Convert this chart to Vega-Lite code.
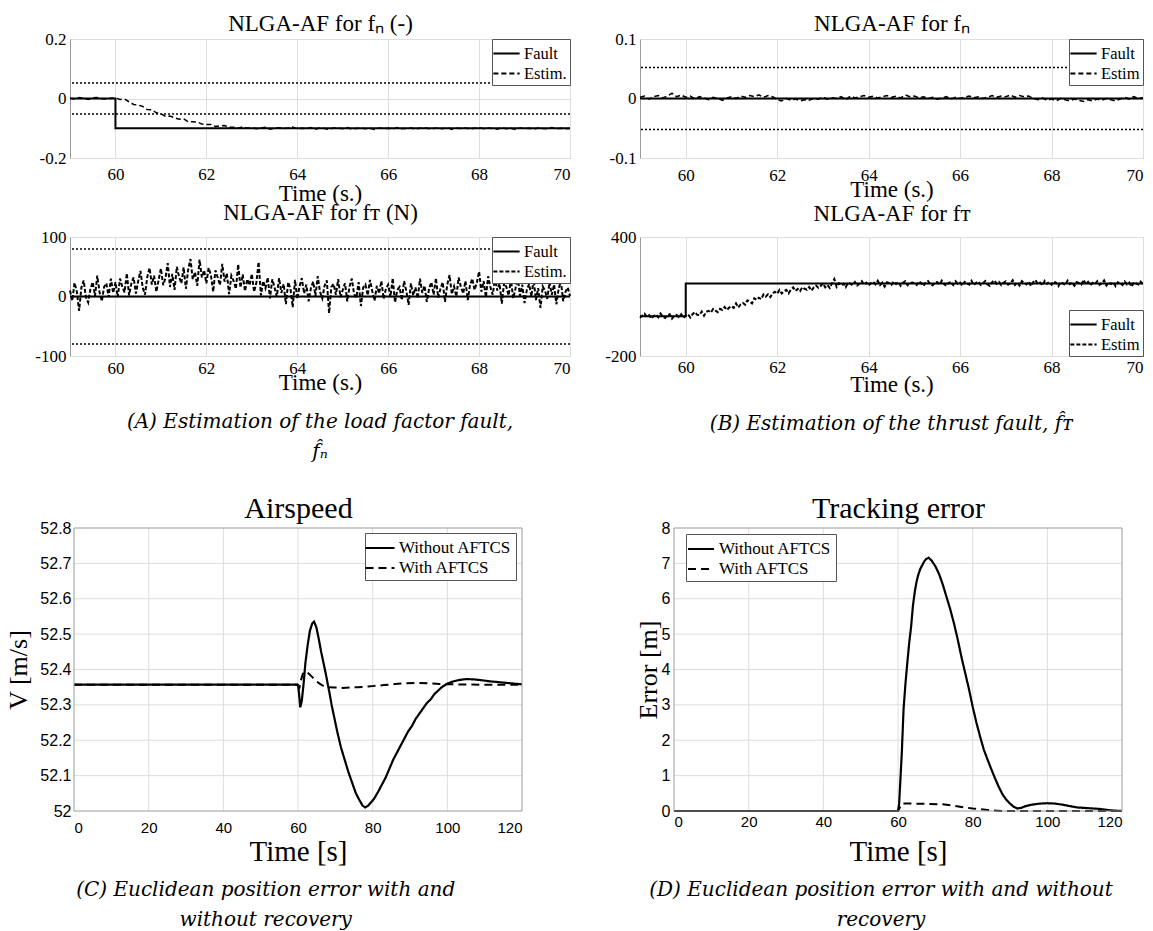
{
"$schema": "https://vega.github.io/schema/vega-lite/v6.json",
"padding": {"left": 5, "top": 11, "right": 0, "bottom": 0},
"background": "white",
"columns": 2,
"align": "each",
"bounds": "flush",
"spacing": {"row": 79, "column": 70},
"resolve": {"scale": {"strokeDash": "independent"}, "legend": {"strokeDash": "independent"}},
"config": {
  "view": {"stroke": "#9a9a9a", "strokeWidth": 1},
  "axis": {"ticks": false, "tickSize": 0, "domain": false, "grid": true, "gridColor": "#dedede", "gridWidth": 1, "labelFont": "Liberation Serif", "labelFontSize": 17, "labelColor": "#000", "titleFont": "Liberation Serif", "titleFontWeight": "normal", "titleColor": "#000"},
  "legend": {"strokeColor": "#555", "fillColor": "white", "padding": 3, "symbolType": "M-1.25,0L1.25,0", "symbolSize": 441, "symbolStrokeWidth": 2, "symbolStrokeColor": "black", "labelFont": "Liberation Serif", "labelColor": "#000", "labelFontSize": 16.5, "labelOffset": 6, "rowPadding": 0, "cornerRadius": 0},
  "title": {"font": "DejaVu Serif", "fontStyle": "italic", "fontWeight": "normal", "fontSize": 20, "color": "#000", "lineHeight": 30}
},
"datasets": {
"a1e": [{"t":59,"v":0.001},{"t":59.1,"v":-0.002},{"t":59.2,"v":0.003},{"t":59.3,"v":0},{"t":59.4,"v":-0.003},{"t":59.5,"v":0.002},{"t":59.6,"v":0.003},{"t":59.7,"v":-0.001},{"t":59.8,"v":-0.002},{"t":59.9,"v":0.001},{"t":60,"v":0.002},{"t":60.1,"v":-0.003},{"t":60.2,"v":-0.002},{"t":60.3,"v":-0.011},{"t":60.4,"v":-0.02},{"t":60.5,"v":-0.022},{"t":60.6,"v":-0.027},{"t":60.7,"v":-0.037},{"t":60.8,"v":-0.038},{"t":60.9,"v":-0.048},{"t":61,"v":-0.051},{"t":61.1,"v":-0.06},{"t":61.2,"v":-0.059},{"t":61.3,"v":-0.065},{"t":61.4,"v":-0.07},{"t":61.5,"v":-0.068},{"t":61.6,"v":-0.078},{"t":61.7,"v":-0.078},{"t":61.8,"v":-0.079},{"t":61.9,"v":-0.086},{"t":62,"v":-0.087},{"t":62.1,"v":-0.087},{"t":62.2,"v":-0.094},{"t":62.3,"v":-0.092},{"t":62.4,"v":-0.091},{"t":62.5,"v":-0.097},{"t":62.6,"v":-0.097},{"t":62.7,"v":-0.1},{"t":62.8,"v":-0.095},{"t":62.9,"v":-0.1},{"t":63,"v":-0.098},{"t":63.1,"v":-0.102},{"t":63.2,"v":-0.099},{"t":63.3,"v":-0.097},{"t":63.4,"v":-0.103},{"t":63.5,"v":-0.1},{"t":63.6,"v":-0.098},{"t":63.7,"v":-0.101},{"t":63.8,"v":-0.099},{"t":63.9,"v":-0.096},{"t":64,"v":-0.102},{"t":64.1,"v":-0.1},{"t":64.2,"v":-0.102},{"t":64.3,"v":-0.098},{"t":64.4,"v":-0.103},{"t":64.5,"v":-0.099},{"t":64.6,"v":-0.101},{"t":64.7,"v":-0.104},{"t":64.8,"v":-0.099},{"t":64.9,"v":-0.1},{"t":65,"v":-0.102},{"t":65.1,"v":-0.098},{"t":65.2,"v":-0.103},{"t":65.3,"v":-0.101},{"t":65.4,"v":-0.099},{"t":65.5,"v":-0.102},{"t":65.6,"v":-0.1},{"t":65.7,"v":-0.104},{"t":65.8,"v":-0.099},{"t":65.9,"v":-0.101},{"t":66,"v":-0.1},{"t":66.1,"v":-0.103},{"t":66.2,"v":-0.098},{"t":66.3,"v":-0.102},{"t":66.4,"v":-0.101},{"t":66.5,"v":-0.099},{"t":66.6,"v":-0.103},{"t":66.7,"v":-0.1},{"t":66.8,"v":-0.098},{"t":66.9,"v":-0.102},{"t":67,"v":-0.101},{"t":67.1,"v":-0.099},{"t":67.2,"v":-0.102},{"t":67.3,"v":-0.098},{"t":67.4,"v":-0.104},{"t":67.5,"v":-0.1},{"t":67.6,"v":-0.101},{"t":67.7,"v":-0.099},{"t":67.8,"v":-0.103},{"t":67.9,"v":-0.1},{"t":68,"v":-0.098},{"t":68.1,"v":-0.102},{"t":68.2,"v":-0.099},{"t":68.3,"v":-0.101},{"t":68.4,"v":-0.103},{"t":68.5,"v":-0.098},{"t":68.6,"v":-0.102},{"t":68.7,"v":-0.1},{"t":68.8,"v":-0.104},{"t":68.9,"v":-0.099},{"t":69,"v":-0.101},{"t":69.1,"v":-0.1},{"t":69.2,"v":-0.103},{"t":69.3,"v":-0.099},{"t":69.4,"v":-0.101},{"t":69.5,"v":-0.102},{"t":69.6,"v":-0.098},{"t":69.7,"v":-0.103},{"t":69.8,"v":-0.1},{"t":69.9,"v":-0.102},{"t":70,"v":-0.101}],
"b1e": [{"t":59,"v":0.002},{"t":59.1,"v":0.004},{"t":59.2,"v":-0.001},{"t":59.3,"v":0.003},{"t":59.4,"v":0.005},{"t":59.5,"v":0.001},{"t":59.6,"v":0.004},{"t":59.7,"v":0.009},{"t":59.8,"v":0.003},{"t":59.9,"v":0.006},{"t":60,"v":0.002},{"t":60.1,"v":0.004},{"t":60.2,"v":-0.001},{"t":60.3,"v":0.003},{"t":60.4,"v":0.001},{"t":60.5,"v":-0.002},{"t":60.6,"v":0.002},{"t":60.7,"v":0},{"t":60.8,"v":-0.003},{"t":60.9,"v":0.001},{"t":61,"v":0.003},{"t":61.1,"v":0},{"t":61.2,"v":0.004},{"t":61.3,"v":0.002},{"t":61.4,"v":0.005},{"t":61.5,"v":0.003},{"t":61.6,"v":0.006},{"t":61.7,"v":0.002},{"t":61.8,"v":0.005},{"t":61.9,"v":0.003},{"t":62,"v":-0.002},{"t":62.1,"v":-0.004},{"t":62.2,"v":0},{"t":62.3,"v":-0.003},{"t":62.4,"v":-0.001},{"t":62.5,"v":-0.004},{"t":62.6,"v":-0.002},{"t":62.7,"v":-0.003},{"t":62.8,"v":0},{"t":62.9,"v":-0.001},{"t":63,"v":0.002},{"t":63.1,"v":-0.001},{"t":63.2,"v":0.001},{"t":63.3,"v":0},{"t":63.4,"v":0.003},{"t":63.5,"v":-0.002},{"t":63.6,"v":0.004},{"t":63.7,"v":0.001},{"t":63.8,"v":0.003},{"t":63.9,"v":0.005},{"t":64,"v":0.002},{"t":64.1,"v":0.004},{"t":64.2,"v":0.001},{"t":64.3,"v":0.003},{"t":64.4,"v":0.005},{"t":64.5,"v":0.002},{"t":64.6,"v":0.004},{"t":64.7,"v":0.001},{"t":64.8,"v":0.006},{"t":64.9,"v":0.003},{"t":65,"v":0.004},{"t":65.1,"v":0.001},{"t":65.2,"v":0.003},{"t":65.3,"v":0},{"t":65.4,"v":0.002},{"t":65.5,"v":-0.001},{"t":65.6,"v":0.001},{"t":65.7,"v":0.003},{"t":65.8,"v":-0.001},{"t":65.9,"v":0.002},{"t":66,"v":0},{"t":66.1,"v":0.002},{"t":66.2,"v":0.004},{"t":66.3,"v":0.001},{"t":66.4,"v":0.003},{"t":66.5,"v":0},{"t":66.6,"v":0.002},{"t":66.7,"v":0.005},{"t":66.8,"v":0.002},{"t":66.9,"v":0.004},{"t":67,"v":0.003},{"t":67.1,"v":0.006},{"t":67.2,"v":0.002},{"t":67.3,"v":0.005},{"t":67.4,"v":0.003},{"t":67.5,"v":0.004},{"t":67.6,"v":0},{"t":67.7,"v":-0.002},{"t":67.8,"v":0.001},{"t":67.9,"v":-0.003},{"t":68,"v":-0.001},{"t":68.1,"v":-0.004},{"t":68.2,"v":0},{"t":68.3,"v":-0.002},{"t":68.4,"v":-0.004},{"t":68.5,"v":-0.001},{"t":68.6,"v":-0.003},{"t":68.7,"v":-0.005},{"t":68.8,"v":-0.002},{"t":68.9,"v":-0.004},{"t":69,"v":-0.001},{"t":69.1,"v":-0.003},{"t":69.2,"v":0},{"t":69.3,"v":-0.002},{"t":69.4,"v":-0.004},{"t":69.5,"v":-0.001},{"t":69.6,"v":0.002},{"t":69.7,"v":-0.001},{"t":69.8,"v":0.003},{"t":69.9,"v":0},{"t":70,"v":0.001}],
"a2e": [{"t":59,"v":10},{"t":59.05,"v":-7},{"t":59.1,"v":23},{"t":59.15,"v":8},{"t":59.2,"v":-24},{"t":59.25,"v":15},{"t":59.3,"v":27},{"t":59.35,"v":-1},{"t":59.4,"v":-10},{"t":59.45,"v":13},{"t":59.5,"v":24},{"t":59.55,"v":1},{"t":59.6,"v":35},{"t":59.65,"v":7},{"t":59.7,"v":-8},{"t":59.75,"v":16},{"t":59.8,"v":22},{"t":59.85,"v":-1},{"t":59.9,"v":30},{"t":59.95,"v":6},{"t":60,"v":24},{"t":60.05,"v":-1},{"t":60.1,"v":30},{"t":60.15,"v":17},{"t":60.2,"v":7},{"t":60.25,"v":39},{"t":60.3,"v":2},{"t":60.35,"v":22},{"t":60.4,"v":32},{"t":60.45,"v":5},{"t":60.5,"v":26},{"t":60.55,"v":43},{"t":60.6,"v":15},{"t":60.65,"v":3},{"t":60.7,"v":33},{"t":60.75,"v":48},{"t":60.8,"v":20},{"t":60.85,"v":35},{"t":60.9,"v":8},{"t":60.95,"v":28},{"t":61,"v":47},{"t":61.05,"v":19},{"t":61.1,"v":31},{"t":61.15,"v":56},{"t":61.2,"v":16},{"t":61.25,"v":38},{"t":61.3,"v":11},{"t":61.35,"v":50},{"t":61.4,"v":33},{"t":61.45,"v":22},{"t":61.5,"v":49},{"t":61.55,"v":13},{"t":61.6,"v":45},{"t":61.65,"v":63},{"t":61.7,"v":29},{"t":61.75,"v":41},{"t":61.8,"v":18},{"t":61.85,"v":62},{"t":61.9,"v":32},{"t":61.95,"v":44},{"t":62,"v":22},{"t":62.05,"v":48},{"t":62.1,"v":36},{"t":62.15,"v":8},{"t":62.2,"v":44},{"t":62.25,"v":32},{"t":62.3,"v":19},{"t":62.35,"v":55},{"t":62.4,"v":25},{"t":62.45,"v":39},{"t":62.5,"v":4},{"t":62.55,"v":35},{"t":62.6,"v":26},{"t":62.65,"v":13},{"t":62.7,"v":54},{"t":62.75,"v":15},{"t":62.8,"v":37},{"t":62.85,"v":9},{"t":62.9,"v":29},{"t":62.95,"v":19},{"t":63,"v":38},{"t":63.05,"v":8},{"t":63.1,"v":23},{"t":63.15,"v":58},{"t":63.2,"v":2},{"t":63.25,"v":26},{"t":63.3,"v":14},{"t":63.35,"v":32},{"t":63.4,"v":-3},{"t":63.45,"v":29},{"t":63.5,"v":15},{"t":63.55,"v":0},{"t":63.6,"v":31},{"t":63.65,"v":6},{"t":63.7,"v":21},{"t":63.75,"v":-13},{"t":63.8,"v":24},{"t":63.85,"v":13},{"t":63.9,"v":-18},{"t":63.95,"v":28},{"t":64,"v":-4},{"t":64.05,"v":17},{"t":64.1,"v":31},{"t":64.15,"v":5},{"t":64.2,"v":20},{"t":64.25,"v":-8},{"t":64.3,"v":14},{"t":64.35,"v":25},{"t":64.4,"v":1},{"t":64.45,"v":34},{"t":64.5,"v":8},{"t":64.55,"v":-3},{"t":64.6,"v":18},{"t":64.65,"v":27},{"t":64.7,"v":-28},{"t":64.75,"v":16},{"t":64.8,"v":21},{"t":64.85,"v":3},{"t":64.9,"v":29},{"t":64.95,"v":-1},{"t":65,"v":11},{"t":65.05,"v":22},{"t":65.1,"v":-8},{"t":65.15,"v":17},{"t":65.2,"v":30},{"t":65.25,"v":4},{"t":65.3,"v":-2},{"t":65.35,"v":24},{"t":65.4,"v":-16},{"t":65.45,"v":15},{"t":65.5,"v":20},{"t":65.55,"v":2},{"t":65.6,"v":28},{"t":65.65,"v":9},{"t":65.7,"v":-7},{"t":65.75,"v":18},{"t":65.8,"v":5},{"t":65.85,"v":26},{"t":65.9,"v":-4},{"t":65.95,"v":13},{"t":66,"v":20},{"t":66.05,"v":-1},{"t":66.1,"v":31},{"t":66.15,"v":-10},{"t":66.2,"v":11},{"t":66.25,"v":16},{"t":66.3,"v":-6},{"t":66.35,"v":26},{"t":66.4,"v":9},{"t":66.45,"v":-14},{"t":66.5,"v":22},{"t":66.55,"v":2},{"t":66.6,"v":15},{"t":66.65,"v":-3},{"t":66.7,"v":30},{"t":66.75,"v":6},{"t":66.8,"v":18},{"t":66.85,"v":-9},{"t":66.9,"v":13},{"t":66.95,"v":24},{"t":67,"v":3},{"t":67.05,"v":31},{"t":67.1,"v":-2},{"t":67.15,"v":13},{"t":67.2,"v":24},{"t":67.25,"v":-9},{"t":67.3,"v":20},{"t":67.35,"v":36},{"t":67.4,"v":4},{"t":67.45,"v":17},{"t":67.5,"v":0},{"t":67.55,"v":32},{"t":67.6,"v":16},{"t":67.65,"v":5},{"t":67.7,"v":26},{"t":67.75,"v":-6},{"t":67.8,"v":19},{"t":67.85,"v":30},{"t":67.9,"v":11},{"t":67.95,"v":23},{"t":68,"v":42},{"t":68.05,"v":8},{"t":68.1,"v":26},{"t":68.15,"v":-1},{"t":68.2,"v":34},{"t":68.25,"v":15},{"t":68.3,"v":3},{"t":68.35,"v":31},{"t":68.4,"v":10},{"t":68.45,"v":22},{"t":68.5,"v":-12},{"t":68.55,"v":23},{"t":68.6,"v":16},{"t":68.65,"v":2},{"t":68.7,"v":29},{"t":68.75,"v":-3},{"t":68.8,"v":13},{"t":68.85,"v":32},{"t":68.9,"v":1},{"t":68.95,"v":20},{"t":69,"v":-11},{"t":69.05,"v":11},{"t":69.1,"v":21},{"t":69.15,"v":0},{"t":69.2,"v":29},{"t":69.25,"v":-6},{"t":69.3,"v":14},{"t":69.35,"v":-19},{"t":69.4,"v":17},{"t":69.45,"v":10},{"t":69.5,"v":-4},{"t":69.55,"v":24},{"t":69.6,"v":3},{"t":69.65,"v":20},{"t":69.7,"v":-13},{"t":69.75,"v":13},{"t":69.8,"v":26},{"t":69.85,"v":-8},{"t":69.9,"v":8},{"t":69.95,"v":15},{"t":70,"v":1}],
"b2e": [{"t":59,"v":-8},{"t":59.05,"v":4},{"t":59.1,"v":13},{"t":59.15,"v":-3},{"t":59.2,"v":6},{"t":59.25,"v":-11},{"t":59.3,"v":2},{"t":59.35,"v":9},{"t":59.4,"v":-5},{"t":59.45,"v":14},{"t":59.5,"v":-1},{"t":59.55,"v":-8},{"t":59.6,"v":5},{"t":59.65,"v":10},{"t":59.7,"v":-12},{"t":59.75,"v":4},{"t":59.8,"v":7},{"t":59.85,"v":-4},{"t":59.9,"v":11},{"t":59.95,"v":-7},{"t":60,"v":2},{"t":60.05,"v":10},{"t":60.1,"v":-6},{"t":60.15,"v":11},{"t":60.2,"v":21},{"t":60.25,"v":8},{"t":60.3,"v":6},{"t":60.35,"v":24},{"t":60.4,"v":3},{"t":60.45,"v":23},{"t":60.5,"v":28},{"t":60.55,"v":19},{"t":60.6,"v":37},{"t":60.65,"v":29},{"t":60.7,"v":21},{"t":60.75,"v":38},{"t":60.8,"v":32},{"t":60.85,"v":47},{"t":60.9,"v":32},{"t":60.95,"v":44},{"t":61,"v":51},{"t":61.05,"v":42},{"t":61.1,"v":65},{"t":61.15,"v":45},{"t":61.2,"v":60},{"t":61.25,"v":67},{"t":61.3,"v":58},{"t":61.35,"v":81},{"t":61.4,"v":75},{"t":61.45,"v":65},{"t":61.5,"v":91},{"t":61.55,"v":83},{"t":61.6,"v":94},{"t":61.65,"v":87},{"t":61.7,"v":110},{"t":61.75,"v":99},{"t":61.8,"v":111},{"t":61.85,"v":97},{"t":61.9,"v":115},{"t":61.95,"v":124},{"t":62,"v":114},{"t":62.05,"v":133},{"t":62.1,"v":115},{"t":62.15,"v":126},{"t":62.2,"v":133},{"t":62.25,"v":116},{"t":62.3,"v":135},{"t":62.35,"v":146},{"t":62.4,"v":128},{"t":62.45,"v":138},{"t":62.5,"v":127},{"t":62.55,"v":147},{"t":62.6,"v":139},{"t":62.65,"v":134},{"t":62.7,"v":148},{"t":62.75,"v":130},{"t":62.8,"v":146},{"t":62.85,"v":155},{"t":62.9,"v":144},{"t":62.95,"v":153},{"t":63,"v":166},{"t":63.05,"v":146},{"t":63.1,"v":158},{"t":63.15,"v":143},{"t":63.2,"v":166},{"t":63.25,"v":188},{"t":63.3,"v":149},{"t":63.35,"v":167},{"t":63.4,"v":156},{"t":63.45,"v":164},{"t":63.5,"v":147},{"t":63.55,"v":169},{"t":63.6,"v":165},{"t":63.65,"v":157},{"t":63.7,"v":173},{"t":63.75,"v":155},{"t":63.8,"v":165},{"t":63.85,"v":177},{"t":63.9,"v":159},{"t":63.95,"v":170},{"t":64,"v":155},{"t":64.05,"v":168},{"t":64.1,"v":174},{"t":64.15,"v":161},{"t":64.2,"v":179},{"t":64.25,"v":158},{"t":64.3,"v":170},{"t":64.35,"v":150},{"t":64.4,"v":172},{"t":64.45,"v":167},{"t":64.5,"v":159},{"t":64.55,"v":176},{"t":64.6,"v":163},{"t":64.65,"v":173},{"t":64.7,"v":154},{"t":64.75,"v":169},{"t":64.8,"v":177},{"t":64.85,"v":157},{"t":64.9,"v":166},{"t":64.95,"v":170},{"t":65,"v":168},{"t":65.05,"v":158},{"t":65.1,"v":176},{"t":65.15,"v":167},{"t":65.2,"v":153},{"t":65.25,"v":171},{"t":65.3,"v":178},{"t":65.35,"v":161},{"t":65.4,"v":156},{"t":65.45,"v":170},{"t":65.5,"v":173},{"t":65.55,"v":160},{"t":65.6,"v":180},{"t":65.65,"v":163},{"t":65.7,"v":154},{"t":65.75,"v":169},{"t":65.8,"v":172},{"t":65.85,"v":158},{"t":65.9,"v":177},{"t":65.95,"v":163},{"t":66,"v":170},{"t":66.05,"v":155},{"t":66.1,"v":174},{"t":66.15,"v":166},{"t":66.2,"v":160},{"t":66.25,"v":179},{"t":66.3,"v":157},{"t":66.35,"v":169},{"t":66.4,"v":175},{"t":66.45,"v":159},{"t":66.5,"v":167},{"t":66.55,"v":178},{"t":66.6,"v":161},{"t":66.65,"v":154},{"t":66.7,"v":172},{"t":66.75,"v":181},{"t":66.8,"v":164},{"t":66.85,"v":173},{"t":66.9,"v":157},{"t":66.95,"v":169},{"t":67,"v":176},{"t":67.05,"v":160},{"t":67.1,"v":167},{"t":67.15,"v":182},{"t":67.2,"v":158},{"t":67.25,"v":171},{"t":67.3,"v":155},{"t":67.35,"v":178},{"t":67.4,"v":168},{"t":67.45,"v":161},{"t":67.5,"v":175},{"t":67.55,"v":153},{"t":67.6,"v":172},{"t":67.65,"v":183},{"t":67.7,"v":163},{"t":67.75,"v":170},{"t":67.8,"v":156},{"t":67.85,"v":179},{"t":67.9,"v":164},{"t":67.95,"v":172},{"t":68,"v":160},{"t":68.05,"v":176},{"t":68.1,"v":169},{"t":68.15,"v":152},{"t":68.2,"v":173},{"t":68.25,"v":166},{"t":68.3,"v":158},{"t":68.35,"v":180},{"t":68.4,"v":162},{"t":68.45,"v":170},{"t":68.5,"v":154},{"t":68.55,"v":173},{"t":68.6,"v":167},{"t":68.65,"v":160},{"t":68.7,"v":184},{"t":68.75,"v":161},{"t":68.8,"v":174},{"t":68.85,"v":157},{"t":68.9,"v":169},{"t":68.95,"v":163},{"t":69,"v":177},{"t":69.05,"v":159},{"t":69.1,"v":168},{"t":69.15,"v":181},{"t":69.2,"v":155},{"t":69.25,"v":170},{"t":69.3,"v":163},{"t":69.35,"v":173},{"t":69.4,"v":152},{"t":69.45,"v":172},{"t":69.5,"v":167},{"t":69.55,"v":158},{"t":69.6,"v":176},{"t":69.65,"v":161},{"t":69.7,"v":170},{"t":69.75,"v":150},{"t":69.8,"v":172},{"t":69.85,"v":166},{"t":69.9,"v":160},{"t":69.95,"v":175},{"t":70,"v":162}],
"cw": [{"t":0,"v":52.357},{"t":60,"v":52.357},{"t":60.3,"v":52.33},{"t":60.6,"v":52.293},{"t":61,"v":52.31},{"t":61.5,"v":52.36},{"t":62,"v":52.42},{"t":62.6,"v":52.47},{"t":63.2,"v":52.51},{"t":63.8,"v":52.53},{"t":64.3,"v":52.535},{"t":64.9,"v":52.52},{"t":65.5,"v":52.49},{"t":66.2,"v":52.45},{"t":67,"v":52.41},{"t":67.5,"v":52.385},{"t":68,"v":52.357},{"t":68.5,"v":52.33},{"t":69,"v":52.3},{"t":69.5,"v":52.275},{"t":70.5,"v":52.225},{"t":71.5,"v":52.18},{"t":72.5,"v":52.145},{"t":73.5,"v":52.11},{"t":74.5,"v":52.08},{"t":75.5,"v":52.05},{"t":76.5,"v":52.03},{"t":77.3,"v":52.015},{"t":78,"v":52.01},{"t":78.8,"v":52.015},{"t":79.6,"v":52.025},{"t":80.4,"v":52.035},{"t":81.5,"v":52.055},{"t":82.5,"v":52.075},{"t":83.5,"v":52.095},{"t":84.5,"v":52.12},{"t":85.5,"v":52.145},{"t":86.5,"v":52.165},{"t":87.5,"v":52.185},{"t":88.5,"v":52.205},{"t":89.5,"v":52.225},{"t":90.5,"v":52.24},{"t":91.5,"v":52.26},{"t":92.5,"v":52.275},{"t":93.5,"v":52.29},{"t":94.5,"v":52.305},{"t":95.5,"v":52.315},{"t":96.5,"v":52.33},{"t":97.5,"v":52.34},{"t":98.5,"v":52.35},{"t":100,"v":52.36},{"t":101.5,"v":52.366},{"t":103,"v":52.37},{"t":105,"v":52.373},{"t":107,"v":52.372},{"t":109,"v":52.37},{"t":111,"v":52.367},{"t":113,"v":52.365},{"t":116,"v":52.362},{"t":120,"v":52.358}],
"cwi": [{"t":0,"v":52.357},{"t":60,"v":52.357},{"t":60.4,"v":52.35},{"t":60.8,"v":52.37},{"t":61.3,"v":52.388},{"t":62,"v":52.395},{"t":62.7,"v":52.39},{"t":63.5,"v":52.382},{"t":64.5,"v":52.372},{"t":65.5,"v":52.362},{"t":66.5,"v":52.355},{"t":68,"v":52.35},{"t":70,"v":52.349},{"t":72,"v":52.348},{"t":74,"v":52.349},{"t":76,"v":52.35},{"t":78,"v":52.351},{"t":80,"v":52.353},{"t":83,"v":52.356},{"t":86,"v":52.359},{"t":89,"v":52.361},{"t":92,"v":52.362},{"t":95,"v":52.361},{"t":98,"v":52.359},{"t":102,"v":52.358},{"t":110,"v":52.357},{"t":120,"v":52.357}],
"dw": [{"t":0,"v":0},{"t":60,"v":0},{"t":60.3,"v":0.2},{"t":60.6,"v":0.8},{"t":61,"v":1.6},{"t":61.5,"v":2.9},{"t":62,"v":3.6},{"t":62.5,"v":4.2},{"t":63,"v":4.75},{"t":63.5,"v":5.2},{"t":64,"v":5.8},{"t":64.5,"v":6.2},{"t":65,"v":6.5},{"t":65.5,"v":6.7},{"t":66,"v":6.85},{"t":66.5,"v":6.95},{"t":67,"v":7.05},{"t":67.5,"v":7.12},{"t":68.2,"v":7.16},{"t":69,"v":7.08},{"t":70,"v":6.92},{"t":71,"v":6.7},{"t":72,"v":6.4},{"t":73,"v":6.05},{"t":74,"v":5.7},{"t":75,"v":5.3},{"t":76,"v":4.85},{"t":77,"v":4.35},{"t":78,"v":3.9},{"t":79,"v":3.45},{"t":80,"v":2.95},{"t":81,"v":2.5},{"t":82,"v":2.1},{"t":83,"v":1.73},{"t":84,"v":1.45},{"t":85,"v":1.18},{"t":86,"v":0.92},{"t":87,"v":0.68},{"t":88,"v":0.47},{"t":89,"v":0.32},{"t":90,"v":0.21},{"t":91,"v":0.12},{"t":92,"v":0.07},{"t":93,"v":0.09},{"t":94,"v":0.13},{"t":95,"v":0.16},{"t":96,"v":0.18},{"t":98,"v":0.21},{"t":100,"v":0.22},{"t":102,"v":0.21},{"t":104,"v":0.18},{"t":106,"v":0.14},{"t":108,"v":0.1},{"t":111,"v":0.08},{"t":114,"v":0.06},{"t":116,"v":0.03},{"t":118,"v":0.01},{"t":120,"v":0}],
"dwi": [{"t":0,"v":0},{"t":60,"v":0},{"t":60.5,"v":0.1},{"t":61,"v":0.21},{"t":64,"v":0.21},{"t":68,"v":0.2},{"t":72,"v":0.19},{"t":75,"v":0.15},{"t":78,"v":0.1},{"t":80,"v":0.07},{"t":84,"v":0.03},{"t":88,"v":0},{"t":120,"v":0}],
"xg": [{"g":20},{"g":40},{"g":60},{"g":80},{"g":100}],
"cyg": [{"h":52.1},{"h":52.2},{"h":52.3},{"h":52.4},{"h":52.5},{"h":52.6},{"h":52.7}],
"dyg": [{"h":1},{"h":2},{"h":3},{"h":4},{"h":5},{"h":6},{"h":7}]
},
"concat": [
{
  "width": 500, "height": 119,
  "resolve": {"axis": {"x": "independent"}},
  "layer": [
    {"data": {"values": [{"y": 0.052}, {"y": -0.052}]},
     "mark": {"type": "rule", "color": "black", "strokeDash": [2, 2], "strokeWidth": 1.5},
     "encoding": {"y": {"field": "y", "type": "quantitative", "scale": {"domain": [-0.2, 0.2], "nice": false, "zero": false}, "title": null}}},
    {"data": {"values": [{"t": 59, "v": 0}, {"t": 60, "v": 0}, {"t": 60, "v": -0.1}, {"t": 70, "v": -0.1}]},
     "mark": {"type": "line", "color": "black", "strokeWidth": 2},
     "encoding": {
       "x": {"field": "t", "type": "quantitative", "scale": {"domain": [59, 70], "nice": false, "zero": false},
             "axis": {"orient": "bottom", "values": [60, 62, 64, 66, 68, 70], "format": "d", "labelFont": "Liberation Serif", "labelPadding": 8, "title": "Time (s.)", "titleFont": "Liberation Serif", "titleFontSize": 23, "titleBaseline": "alphabetic", "titleY": 42}},
       "y": {"field": "v", "type": "quantitative", "scale": {"domain": [-0.2, 0.2], "nice": false, "zero": false}, "title": null,
             "axis": {"values": [-0.2, 0, 0.2], "labelFont": "Liberation Serif", "labelExpr": "datum.value > 0.1 ? '0.2' : (datum.value < -0.1 ? '-0.2' : '0')", "labelPadding": 4}},
       "strokeDash": {"datum": "Fault", "type": "nominal", "scale": {"domain": ["Fault", "Estim."], "range": [[1, 0], [5, 3]]},
             "legend": {"title": null, "orient": "top-right", "offset": 0}}
     }},
    {"data": {"name": "a1e"},
     "mark": {"type": "line", "color": "black", "strokeWidth": 1.5},
     "encoding": {
       "x": {"field": "t", "type": "quantitative", "scale": {"domain": [59, 70], "nice": false, "zero": false},
             "axis": {"orient": "top", "labels": false, "grid": false, "title": "NLGA-AF for f\u2099 (-)", "titleFont": "Liberation Serif", "titleFontSize": 23, "titleBaseline": "alphabetic", "titleY": -9}},
       "y": {"field": "v", "type": "quantitative", "scale": {"domain": [-0.2, 0.2], "nice": false, "zero": false}, "title": null},
       "strokeDash": {"datum": "Estim.", "type": "nominal"}
     }}
  ]
},
{
  "width": 503, "height": 119,
  "resolve": {"axis": {"x": "independent"}},
  "layer": [
    {"data": {"values": [{"y": 0.052}, {"y": -0.052}]},
     "mark": {"type": "rule", "color": "black", "strokeDash": [2, 2], "strokeWidth": 1.5},
     "encoding": {"y": {"field": "y", "type": "quantitative", "scale": {"domain": [-0.1, 0.1], "nice": false, "zero": false}, "title": null}}},
    {"data": {"values": [{"t": 59, "v": 0}, {"t": 70, "v": 0}]},
     "mark": {"type": "line", "color": "black", "strokeWidth": 2},
     "encoding": {
       "x": {"field": "t", "type": "quantitative", "scale": {"domain": [59, 70], "nice": false, "zero": false},
             "axis": {"orient": "bottom", "values": [60, 62, 64, 66, 68, 70], "format": "d", "labelFont": "Liberation Serif", "labelPadding": 9, "labelFlush": true, "title": "Time (s.)", "titleFont": "Liberation Serif", "titleFontSize": 23, "titleBaseline": "alphabetic", "titleY": 38}},
       "y": {"field": "v", "type": "quantitative", "scale": {"domain": [-0.1, 0.1], "nice": false, "zero": false}, "title": null,
             "axis": {"values": [-0.1, 0, 0.1], "labelFont": "Liberation Serif", "labelExpr": "datum.value > 0.05 ? '0.1' : (datum.value < -0.05 ? '-0.1' : '0')", "labelPadding": 4}},
       "strokeDash": {"datum": "Fault", "type": "nominal", "scale": {"domain": ["Fault", "Estim"], "range": [[1, 0], [5, 3]]},
             "legend": {"title": null, "orient": "top-right", "offset": 0}}
     }},
    {"data": {"name": "b1e"},
     "mark": {"type": "line", "color": "black", "strokeWidth": 1.6},
     "encoding": {
       "x": {"field": "t", "type": "quantitative", "scale": {"domain": [59, 70], "nice": false, "zero": false},
             "axis": {"orient": "top", "labels": false, "grid": false, "title": "NLGA-AF for f\u2099", "titleFont": "Liberation Serif", "titleFontSize": 23, "titleBaseline": "alphabetic", "titleY": -9}},
       "y": {"field": "v", "type": "quantitative", "scale": {"domain": [-0.1, 0.1], "nice": false, "zero": false}, "title": null},
       "strokeDash": {"datum": "Estim", "type": "nominal"}
     }}
  ]
},
{
  "width": 500, "height": 119,
  "title": {"text": ["(A)  Estimation of the load factor fault,", "f\u0302\u2099"], "orient": "bottom", "anchor": "middle", "frame": "group", "offset": 18},
  "resolve": {"axis": {"x": "independent"}},
  "layer": [
    {"data": {"values": [{"y": 80}, {"y": -80}]},
     "mark": {"type": "rule", "color": "black", "strokeDash": [2, 2], "strokeWidth": 1.5},
     "encoding": {"y": {"field": "y", "type": "quantitative", "scale": {"domain": [-100, 100], "nice": false, "zero": false}, "title": null}}},
    {"data": {"values": [{"t": 59, "v": 0}, {"t": 70, "v": 0}]},
     "mark": {"type": "line", "color": "black", "strokeWidth": 2},
     "encoding": {
       "x": {"field": "t", "type": "quantitative", "scale": {"domain": [59, 70], "nice": false, "zero": false},
             "axis": {"orient": "bottom", "values": [60, 62, 64, 66, 68, 70], "format": "d", "labelFont": "Liberation Serif", "labelPadding": 4, "title": "Time (s.)", "titleFont": "Liberation Serif", "titleFontSize": 23, "titleBaseline": "alphabetic", "titleY": 33}},
       "y": {"field": "v", "type": "quantitative", "scale": {"domain": [-100, 100], "nice": false, "zero": false}, "title": null,
             "axis": {"values": [-100, 0, 100], "labelFont": "Liberation Serif", "labelExpr": "datum.value > 0 ? '100' : (datum.value < 0 ? '-100' : '0')", "labelPadding": 4}},
       "strokeDash": {"datum": "Fault", "type": "nominal", "scale": {"domain": ["Fault", "Estim."], "range": [[1, 0], [4, 2]]},
             "legend": {"title": null, "orient": "top-right", "offset": 0}}
     }},
    {"data": {"name": "a2e"},
     "mark": {"type": "line", "color": "black", "strokeWidth": 2},
     "encoding": {
       "x": {"field": "t", "type": "quantitative", "scale": {"domain": [59, 70], "nice": false, "zero": false},
             "axis": {"orient": "top", "labels": false, "grid": false, "title": "NLGA-AF for f\u1d1b (N)", "titleFont": "Liberation Serif", "titleFontSize": 23, "titleBaseline": "alphabetic", "titleY": -18}},
       "y": {"field": "v", "type": "quantitative", "scale": {"domain": [-100, 100], "nice": false, "zero": false}, "title": null},
       "strokeDash": {"datum": "Estim.", "type": "nominal"}
     }}
  ]
},
{
  "width": 503, "height": 119,
  "title": {"text": "(B)  Estimation of the thrust fault, f\u0302\u1d1b", "orient": "bottom", "anchor": "middle", "frame": "group", "offset": 18},
  "resolve": {"axis": {"x": "independent"}},
  "layer": [
    {"data": {"values": [{"t": 59, "v": 0}, {"t": 60, "v": 0}, {"t": 60, "v": 165}, {"t": 70, "v": 165}]},
     "mark": {"type": "line", "color": "black", "strokeWidth": 2},
     "encoding": {
       "x": {"field": "t", "type": "quantitative", "scale": {"domain": [59, 70], "nice": false, "zero": false},
             "axis": {"orient": "bottom", "values": [60, 62, 64, 66, 68, 70], "format": "d", "labelFont": "Liberation Serif", "labelPadding": 3, "labelFlush": true, "title": "Time (s.)", "titleFont": "Liberation Serif", "titleFontSize": 23, "titleBaseline": "alphabetic", "titleY": 35}},
       "y": {"field": "v", "type": "quantitative", "scale": {"domain": [-200, 400], "nice": false, "zero": false}, "title": null,
             "axis": {"values": [-200, -100, 0, 100, 200, 300, 400], "labelFont": "Liberation Serif", "labelExpr": "datum.value == -200 ? '-200' : (datum.value == 0 ? '0' : (datum.value == 200 ? '200' : (datum.value == 400 ? '400' : '')))", "labelPadding": 4}},
       "strokeDash": {"datum": "Fault", "type": "nominal", "scale": {"domain": ["Fault", "Estim"], "range": [[1, 0], [4, 2]]},
             "legend": {"title": null, "orient": "bottom-right", "offset": 0}}
     }},
    {"data": {"name": "b2e"},
     "mark": {"type": "line", "color": "black", "strokeWidth": 2},
     "encoding": {
       "x": {"field": "t", "type": "quantitative", "scale": {"domain": [59, 70], "nice": false, "zero": false},
             "axis": {"orient": "top", "labels": false, "grid": false, "title": "NLGA-AF for f\u1d1b", "titleFont": "Liberation Serif", "titleFontSize": 23, "titleBaseline": "alphabetic", "titleY": -17}},
       "y": {"field": "v", "type": "quantitative", "scale": {"domain": [-200, 400], "nice": false, "zero": false}, "title": null},
       "strokeDash": {"datum": "Estim", "type": "nominal"}
     }}
  ]
},
{
  "width": 452, "height": 376,
  "view": {"stroke": null},
  "title": {"text": ["(C)  Euclidean position error with and", "without recovery"], "orient": "bottom", "anchor": "middle", "frame": "bounds", "offset": 14},
  "resolve": {"axis": {"x": "independent"}},
  "layer": [
    {"data": {"name": "xg"},
     "mark": {"type": "rule", "color": "#dedede", "strokeWidth": 1},
     "encoding": {
       "x": {"field": "g", "type": "quantitative", "axis": null, "scale": {"domain": [0, 120], "range": [4, 452], "nice": false, "zero": false}},
       "y": {"datum": 52, "type": "quantitative", "title": "V [m/s]", "scale": {"domain": [52, 52.8], "range": [376, 93], "nice": false, "zero": false}},
       "y2": {"datum": 52.8}
     }},
    {"data": {"name": "cyg"},
     "mark": {"type": "rule", "color": "#dedede", "strokeWidth": 1},
     "encoding": {
       "x": {"datum": 0, "type": "quantitative", "axis": null, "scale": {"domain": [0, 120], "range": [4, 452], "nice": false, "zero": false}},
       "x2": {"datum": 120},
       "y": {"field": "h", "type": "quantitative", "title": "V [m/s]", "scale": {"domain": [52, 52.8], "range": [376, 93], "nice": false, "zero": false}}
     }},
    {"data": {"name": "cw"},
     "mark": {"type": "line", "color": "black", "strokeWidth": 2.2},
     "encoding": {
       "x": {"field": "t", "type": "quantitative", "scale": {"domain": [0, 120], "range": [4, 452], "nice": false, "zero": false},
             "axis": {"orient": "bottom", "grid": false, "values": [0, 20, 40, 60, 80, 100, 120], "format": "d", "labelFont": "Liberation Sans", "labelFontSize": 15, "labelPadding": 9, "title": "Time [s]", "titleFont": "Liberation Serif", "titleFontSize": 29, "titleBaseline": "alphabetic", "titleY": 49}},
       "y": {"field": "v", "type": "quantitative", "scale": {"domain": [52, 52.8], "range": [376, 93], "nice": false, "zero": false}, "title": "V [m/s]",
             "axis": {"offset": -4, "grid": false, "values": [52, 52.1, 52.2, 52.3, 52.4, 52.5, 52.6, 52.7, 52.8], "labelExpr": "datum.value < 52.05 ? '52' : format(datum.value, '.1f')", "labelFont": "Liberation Sans", "labelFontSize": 16, "labelPadding": 3, "titleFont": "Liberation Serif", "titleFontSize": 26, "titleBaseline": "alphabetic", "titleX": -48}},
       "strokeDash": {"datum": "Without AFTCS", "type": "nominal", "scale": {"domain": ["Without AFTCS", "With AFTCS"], "range": [[1, 0], [8, 5]]},
             "legend": {"title": null, "orient": "none", "legendX": 295, "legendY": 98, "labelFontSize": 17, "symbolType": "M-1.45,0L1.45,0", "symbolSize": 400, "labelOffset": 8, "padding": 4, "rowPadding": 1}}
     }},
    {"data": {"name": "cwi"},
     "mark": {"type": "line", "color": "black", "strokeWidth": 2},
     "encoding": {
       "x": {"field": "t", "type": "quantitative", "scale": {"domain": [0, 120], "range": [4, 452], "nice": false, "zero": false},
             "axis": {"orient": "top", "labels": false, "grid": false, "title": "Airspeed", "titleFont": "Liberation Serif", "titleFontSize": 30, "titleBaseline": "alphabetic", "titleY": 82}},
       "y": {"field": "v", "type": "quantitative", "scale": {"domain": [52, 52.8], "range": [376, 93], "nice": false, "zero": false}, "title": "V [m/s]"},
       "strokeDash": {"datum": "With AFTCS", "type": "nominal"}
     }},
    {"data": {"values": [{}]},
     "mark": {"type": "rect", "fill": null, "stroke": "#9a9a9a", "strokeWidth": 1},
     "encoding": {
       "x": {"datum": 0, "type": "quantitative", "axis": null, "scale": {"domain": [0, 120], "range": [4, 452], "nice": false, "zero": false}},
       "x2": {"datum": 120},
       "y": {"datum": 52, "type": "quantitative", "title": "V [m/s]", "scale": {"domain": [52, 52.8], "range": [376, 93], "nice": false, "zero": false}},
       "y2": {"datum": 52.8}
     }}
  ]
},
{
  "width": 482, "height": 376,
  "view": {"stroke": null},
  "title": {"text": ["(D)  Euclidean position error with and without", "recovery"], "orient": "bottom", "anchor": "middle", "frame": "group", "offset": 14},
  "resolve": {"axis": {"x": "independent"}},
  "layer": [
    {"data": {"name": "xg"},
     "mark": {"type": "rule", "color": "#dedede", "strokeWidth": 1},
     "encoding": {
       "x": {"field": "g", "type": "quantitative", "axis": null, "scale": {"domain": [0, 120], "range": [34, 482], "nice": false, "zero": false}},
       "y": {"datum": 0, "type": "quantitative", "title": "Error [m]", "scale": {"domain": [0, 8], "range": [376, 93], "nice": false, "zero": false}},
       "y2": {"datum": 8}
     }},
    {"data": {"name": "dyg"},
     "mark": {"type": "rule", "color": "#dedede", "strokeWidth": 1},
     "encoding": {
       "x": {"datum": 0, "type": "quantitative", "axis": null, "scale": {"domain": [0, 120], "range": [34, 482], "nice": false, "zero": false}},
       "x2": {"datum": 120},
       "y": {"field": "h", "type": "quantitative", "title": "Error [m]", "scale": {"domain": [0, 8], "range": [376, 93], "nice": false, "zero": false}}
     }},
    {"data": {"name": "dw"},
     "mark": {"type": "line", "color": "black", "strokeWidth": 2.2},
     "encoding": {
       "x": {"field": "t", "type": "quantitative", "scale": {"domain": [0, 120], "range": [34, 482], "nice": false, "zero": false},
             "axis": {"orient": "bottom", "grid": false, "values": [0, 20, 40, 60, 80, 100, 120], "format": "d", "labelFont": "Liberation Sans", "labelFontSize": 15, "labelPadding": 3, "labelFlush": true, "title": "Time [s]", "titleFont": "Liberation Serif", "titleFontSize": 29, "titleBaseline": "alphabetic", "titleY": 49}},
       "y": {"field": "v", "type": "quantitative", "scale": {"domain": [0, 8], "range": [376, 93], "nice": false, "zero": false}, "title": "Error [m]",
             "axis": {"offset": -34, "grid": false, "values": [0, 1, 2, 3, 4, 5, 6, 7, 8], "format": "d", "labelFont": "Liberation Sans", "labelFontSize": 16, "labelPadding": 4, "titleFont": "Liberation Serif", "titleFontSize": 26, "titleBaseline": "alphabetic", "titleX": -18}},
       "strokeDash": {"datum": "Without AFTCS", "type": "nominal", "scale": {"domain": ["Without AFTCS", "With AFTCS"], "range": [[1, 0], [8, 5]]},
             "legend": {"title": null, "orient": "none", "legendX": 46, "legendY": 99, "labelFontSize": 17, "symbolType": "M-1.3,0L1.3,0", "symbolSize": 400, "labelOffset": 7, "padding": 4, "rowPadding": 1}}
     }},
    {"data": {"name": "dwi"},
     "mark": {"type": "line", "color": "black", "strokeWidth": 2},
     "encoding": {
       "x": {"field": "t", "type": "quantitative", "scale": {"domain": [0, 120], "range": [34, 482], "nice": false, "zero": false},
             "axis": {"orient": "top", "labels": false, "grid": false, "title": "Tracking error", "titleFont": "Liberation Serif", "titleFontSize": 30, "titleBaseline": "alphabetic", "titleY": 82}},
       "y": {"field": "v", "type": "quantitative", "scale": {"domain": [0, 8], "range": [376, 93], "nice": false, "zero": false}, "title": "Error [m]"},
       "strokeDash": {"datum": "With AFTCS", "type": "nominal"}
     }},
    {"data": {"values": [{}]},
     "mark": {"type": "rect", "fill": null, "stroke": "#9a9a9a", "strokeWidth": 1},
     "encoding": {
       "x": {"datum": 0, "type": "quantitative", "axis": null, "scale": {"domain": [0, 120], "range": [34, 482], "nice": false, "zero": false}},
       "x2": {"datum": 120},
       "y": {"datum": 0, "type": "quantitative", "title": "Error [m]", "scale": {"domain": [0, 8], "range": [376, 93], "nice": false, "zero": false}},
       "y2": {"datum": 8}
     }}
  ]
}
]
}
